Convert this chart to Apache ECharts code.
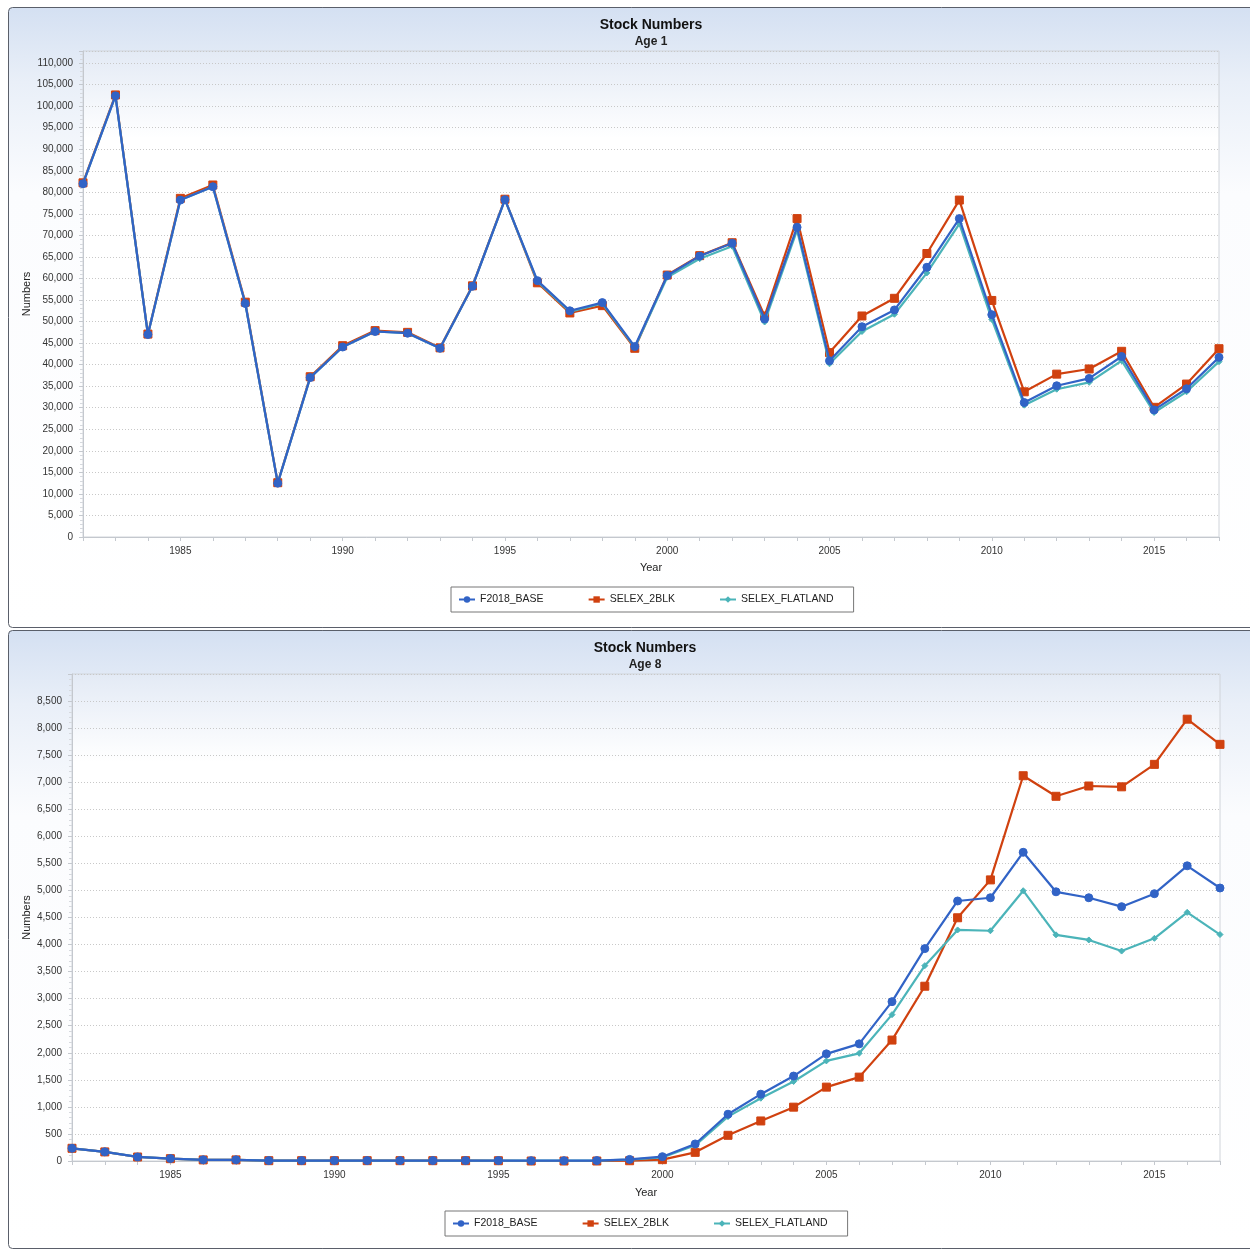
<!DOCTYPE html>
<html><head><meta charset="utf-8">
<script src="https://cdn.jsdelivr.net/npm/echarts@6/dist/echarts.min.js"></script>
<style>html,body{margin:0;padding:0;background:#fff}#c{width:1250px;height:1249px}</style>
</head><body><div id="c"></div>
<script>
const years = [1982,1983,1984,1985,1986,1987,1988,1989,1990,1991,1992,1993,1994,1995,1996,1997,1998,1999,2000,2001,2002,2003,2004,2005,2006,2007,2008,2009,2010,2011,2012,2013,2014,2015,2016,2017];
const seriesNames = ['F2018_BASE','SELEX_2BLK','SELEX_FLATLAND'];
const age1Base = [82000,102400,47000,78200,81300,54200,12500,37000,44100,47700,47300,43800,58200,78300,59500,52500,54400,44200,60700,65200,68200,50600,71900,40900,48800,52700,62600,73900,51600,31200,35100,36800,41900,29500,34400,41700];
const age1Selex2blk = [82200,102600,47100,78600,81700,54500,12600,37200,44400,47900,47500,43900,58300,78400,59000,52000,53700,43800,60800,65300,68300,51300,73900,42800,51300,55400,65800,78200,54900,33700,37800,39000,43100,30100,35500,43700];
const age1Flatland = [82000,102400,47000,78200,81300,54200,12500,37000,44100,47700,47300,43800,58200,78300,59300,52300,54200,44000,60300,64600,67500,49900,71200,40200,47700,51700,61300,72700,50500,30600,34300,35900,40900,28900,33700,40700];
const age8Base = [235,170,75,45,22,22,8,8,8,8,8,8,8,8,6,6,8,30,80,315,865,1235,1570,1980,2165,2945,3925,4805,4865,5705,4975,4865,4700,4940,5455,5045];
const age8Selex2blk = [235,168,74,43,20,20,6,6,6,6,6,6,6,5,0,0,0,5,25,160,475,740,995,1365,1550,2235,3230,4495,5195,7120,6740,6930,6915,7330,8165,7700];
const age8Flatland = [235,170,75,45,22,22,8,8,8,8,8,8,8,8,6,6,7,25,65,290,820,1160,1470,1850,1990,2705,3610,4270,4255,4995,4180,4085,3880,4115,4595,4185];
const titles = ['Stock Numbers','Stock Numbers'];
const subtitles = ['Age 1','Age 8'];

const COLORS = ['#3163c6','#d0410f','#4bb4b9'];
const SYMBOLS = ['circle','rect','diamond'];
const SIZES = [8,8,6];
const FONT = 'Liberation Sans';
const chart = echarts.init(document.getElementById('c'), null, {renderer:'canvas'});

const panels = [
  {x:8,y:7,w:1250,h:621, grid:{left:83,top:51,width:1136,height:486}, max:112800, interval:5000, nameGap:51, xNameGap:25, titleX:646, legend:{left:451,top:587}},
  {x:8,y:630,w:1250,h:619, grid:{left:72,top:674,width:1148,height:487}, max:9000, interval:500, nameGap:40, xNameGap:26, titleX:640, legend:{left:445,top:1211}}
];
const data = [[age1Base,age1Selex2blk,age1Flatland],[age8Base,age8Selex2blk,age8Flatland]];
const fmt = v => Math.round(v).toLocaleString('en-US');

const option = {
  animation:false,
  textStyle:{fontFamily:FONT},
  graphic: panels.map(p=>({
    type:'rect', z:-10, silent:true,
    shape:{x:p.x+0.5,y:p.y+0.5,width:p.w,height:p.h-1,r:4},
    style:{
      fill:new echarts.graphic.LinearGradient(0,0,0,1,[
        {offset:0,color:'#d4e0f2'},{offset:0.12,color:'#e9eff8'},{offset:0.3,color:'#fbfcfe'},{offset:1,color:'#ffffff'}]),
      stroke:'#5a5f6a', lineWidth:1
    }
  })),
  title: panels.map((p,i)=>({
    text:titles[i], subtext:subtitles[i],
    left:p.titleX, top:p.y+6, textAlign:'center',
    itemGap:4,
    textStyle:{fontSize:14,fontWeight:'bold',color:'#111',fontFamily:FONT},
    subtextStyle:{fontSize:12,fontWeight:'bold',color:'#222',fontFamily:FONT}
  })),
  legend: panels.map((p,i)=>({
    left:p.legend.left, top:p.legend.top,
    orient:'horizontal', itemWidth:16, itemHeight:8, itemGap:44,
    padding:[7,20,7,7],
    backgroundColor:'#fff', borderColor:'#777', borderWidth:1, borderRadius:0,
    textStyle:{fontSize:10.5,color:'#222',fontFamily:FONT}
  })),
  grid: panels.map(p=>({
    left:p.grid.left, top:p.grid.top, width:p.grid.width, height:p.grid.height,
    show:true, borderColor:'#d0d4da', borderWidth:1,
    backgroundColor:new echarts.graphic.LinearGradient(0,0,0,1,[
      {offset:0,color:'#e3eaf5'},{offset:0.18,color:'#ffffff'},{offset:1,color:'#ffffff'}])
  })),
  xAxis: panels.map((p,i)=>({
    type:'category', gridIndex:i, data:years, boundaryGap:false,
    name:'Year', nameLocation:'middle', nameGap:p.xNameGap, nameMoveOverlap:false,
    nameTextStyle:{fontSize:11,color:'#222',fontFamily:FONT},
    axisLine:{lineStyle:{color:'#c4c8ce'}},
    axisTick:{show:true, interval:0, length:4, lineStyle:{color:'#c4c8ce'}},
    axisLabel:{interval:(idx,val)=>(+val)%5===0, fontSize:10, color:'#333', margin:9, fontFamily:FONT},
    splitLine:{show:false}
  })),
  yAxis: panels.map((p,i)=>({
    type:'value', gridIndex:i, min:0, max:p.max, interval:p.interval,
    name:'Numbers', nameLocation:'middle', nameGap:p.nameGap, nameRotate:90, nameMoveOverlap:false,
    nameTextStyle:{fontSize:11,color:'#222',fontFamily:FONT},
    axisLine:{show:true,lineStyle:{color:'#c4c8ce'}},
    axisTick:{show:true,length:4,lineStyle:{color:'#c4c8ce'}},
    minorTick:{show:true,splitNumber:5,length:3,lineStyle:{color:'#d6d9de'}},
    axisLabel:{formatter:fmt, fontSize:10, color:'#333', margin:10, showMaxLabel:false, fontFamily:FONT},
    splitLine:{show:true,lineStyle:{color:'#c8c8c8',type:[1,2],width:1}}
  })),
  series: []
};
const zOrder = [3,1,2];
data.forEach((set,gi)=>{
  set.forEach((vals,si)=>{
    option.series.push({
      type:'line', name:seriesNames[si]+(gi?' ':''), xAxisIndex:gi, yAxisIndex:gi,
      data:vals, symbol:SYMBOLS[si], symbolSize:SIZES[si], showSymbol:true,
      z:zOrder[si],
      lineStyle:{color:COLORS[si],width:2.2},
      itemStyle:{color:COLORS[si],borderColor:COLORS[si]},
      emphasis:{disabled:true}
    });
  });
});
option.legend[0].data = seriesNames.slice();
option.legend[1].data = seriesNames.map(n=>n+' ');
option.legend.forEach(l=>{ l.formatter = n=>n.trim(); });
chart.setOption(option);
</script></body></html>
